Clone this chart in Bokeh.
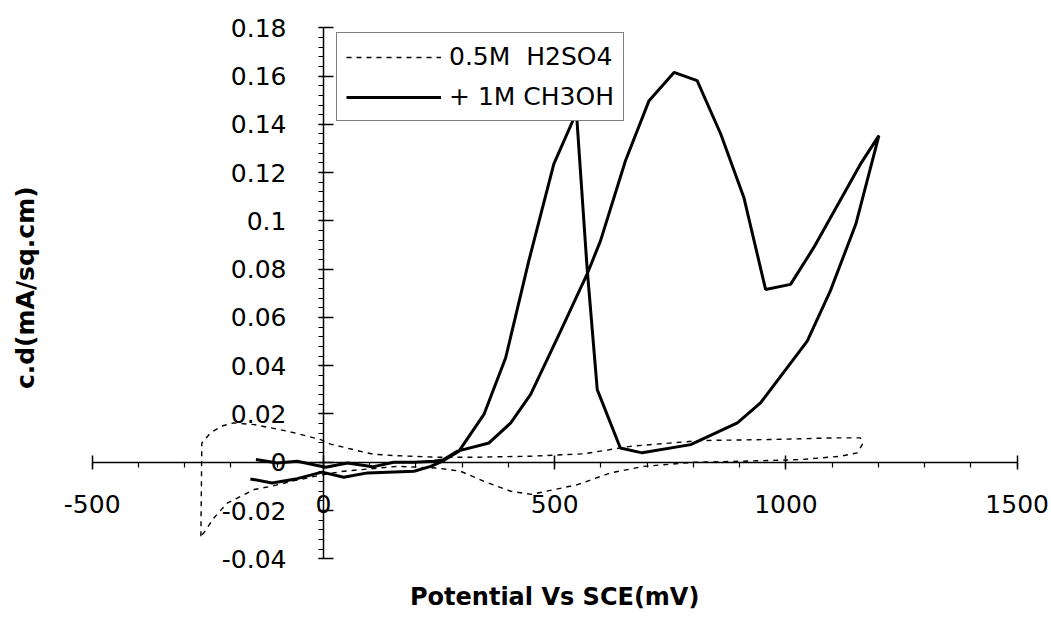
import math
from bokeh.plotting import figure
from bokeh.models import FixedTicker, CustomJSTickFormatter, Label, Legend, LegendItem
from bokeh.embed import file_html
from bokeh.resources import INLINE

# ---- data ----
h2so4_x = [-265, -263, -244, -220, -194, -150, -78, -6, 15, 51, 87, 109, 160, 246, 332,
           448, 563, 664, 815, 960, 1104, 1161, 1165, 1154, 1118, 1031, 900, 800, 693,
           621, 549, 450, 405, 347, 296, 246, 160, 44, 0, -60, -114, -150, -208, -237,
           -259, -265]
h2so4_y = [-0.0307, 0.0080, 0.0122, 0.0150, 0.0163, 0.0156, 0.0129, 0.0094, 0.0075,
           0.0059, 0.0042, 0.0033, 0.0027, 0.0021, 0.0021, 0.0025, 0.0035, 0.0066,
           0.0090, 0.0094, 0.0101, 0.0101, 0.0073, 0.0039, 0.0025, 0.0011, 0.0004,
           0.0000, -0.0017, -0.0044, -0.0093, -0.0133, -0.0120, -0.0079, -0.0037,
           -0.0024, -0.0017, -0.0037, -0.0051, -0.0075, -0.0100, -0.0113, -0.0169,
           -0.0231, -0.0293, -0.0307]

meoh_x = [-146, -100, -57, -21, 5, 52, 106, 152, 196, 239, 260, 290, 358, 405, 448,
          513, 570, 599, 653, 704, 758, 808, 859, 909, 956, 1010, 1060, 1161, 1201,
          1151, 1096, 1046, 945, 895, 794, 689, 642, 592, 570, 547, 498, 444, 394,
          347, 293, 260, 232, 196, 95, 44, -3, -57, -111, -158]
meoh_y = [0.0011, -0.0003, 0.0004, -0.0010, -0.0021, -0.0003, -0.0019, 0.0000, 0.0000,
          0.0004, 0.0011, 0.0046, 0.0080, 0.0163, 0.0281, 0.0544, 0.0779, 0.0917,
          0.1249, 0.1498, 0.1615, 0.1581, 0.1360, 0.1097, 0.0716, 0.0737, 0.0889,
          0.1235, 0.1353, 0.0986, 0.0710, 0.0502, 0.0246, 0.0163, 0.0073, 0.0039,
          0.0059, 0.0301, 0.0806, 0.1449, 0.1235, 0.0834, 0.0433, 0.0198, 0.0046,
          0.0007, -0.0017, -0.0037, -0.0044, -0.0062, -0.0041, -0.0068, -0.0086,
          -0.0069]

x_ticks = [-500, 0, 500, 1000, 1500]
x_minor = list(range(-500, 1501, 100))
y_ticks = [-0.04, -0.02, 0.0, 0.02, 0.04, 0.06, 0.08, 0.1, 0.12, 0.14, 0.16, 0.18]
y_minor = [round(-0.04 + 0.004 * i, 3) for i in range(56)]

labels = ["0.5M  H2SO4", "+ 1M CH3OH"]
x_title = "Potential Vs SCE(mV)"
y_title = "c.d(mA/sq.cm)"

FONT = "DejaVu Sans"

# frame covers the whole canvas; axes drawn at the origin, limited by bounds
p = figure(width=1051, height=623, x_range=(-698.3, 1574.2), y_range=(-0.0668, 0.1913),
           output_backend="svg", toolbar_location=None,
           min_border_left=0, min_border_right=0, min_border_top=0,
           min_border_bottom=0)
p.outline_line_color = None
p.grid.visible = False

r_dash = p.line(h2so4_x, h2so4_y, line_color="black", line_width=1.4, line_dash="5 5")
r_solid = p.line(meoh_x, meoh_y, line_color="black", line_width=3)

for ax in (p.xaxis[0], p.yaxis[0]):
    ax.fixed_location = 0
    ax.axis_line_width = 1.5
    ax.axis_line_color = "black"
    ax.major_tick_line_width = 1.5
    ax.minor_tick_line_width = 1.2
    ax.major_label_text_font = FONT
    ax.major_label_text_font_size = "25px"
    ax.major_label_text_color = "black"

p.xaxis.bounds = (-500, 1500)
p.yaxis.bounds = (-0.04, 0.18)
p.xaxis.ticker = FixedTicker(ticks=x_ticks, minor_ticks=x_minor)
p.yaxis.ticker = FixedTicker(ticks=y_ticks, minor_ticks=y_minor)
p.xaxis.formatter = CustomJSTickFormatter(code="return Math.round(tick).toString();")
p.yaxis.formatter = CustomJSTickFormatter(code="return (Math.round(tick*100)/100).toString();")

p.xaxis.major_tick_in = 7
p.xaxis.major_tick_out = 7
p.xaxis.minor_tick_in = 0
p.xaxis.minor_tick_out = 5
p.xaxis.major_label_standoff = 26

p.yaxis.major_tick_in = 10
p.yaxis.major_tick_out = 5
p.yaxis.minor_tick_in = 0
p.yaxis.minor_tick_out = 5
p.yaxis.major_label_standoff = 32

p.add_layout(Label(x=500, y=-0.0560, text=x_title, text_font=FONT,
                   text_font_style="bold", text_font_size="24px", text_color="black",
                   text_align="center", text_baseline="middle"))
p.add_layout(Label(x=-645, y=0.0723, text=y_title, text_font=FONT,
                   text_font_style="bold", text_font_size="25px", text_color="black",
                   angle=math.pi / 2, text_align="center", text_baseline="middle"))

legend = Legend(items=[LegendItem(label=labels[0], renderers=[r_dash]),
                       LegendItem(label=labels[1], renderers=[r_solid])],
                location=(336, 502))
legend.label_text_font = FONT
legend.label_text_font_size = "25px"
legend.label_text_color = "black"
legend.glyph_width = 95
legend.glyph_height = 20
legend.label_standoff = 8
legend.padding = 9
legend.spacing = 11
legend.margin = 0
legend.border_line_color = "black"
legend.border_line_width = 1.5
legend.background_fill_alpha = 1
p.add_layout(legend)

open("out.html", "w").write(file_html(p, INLINE))
